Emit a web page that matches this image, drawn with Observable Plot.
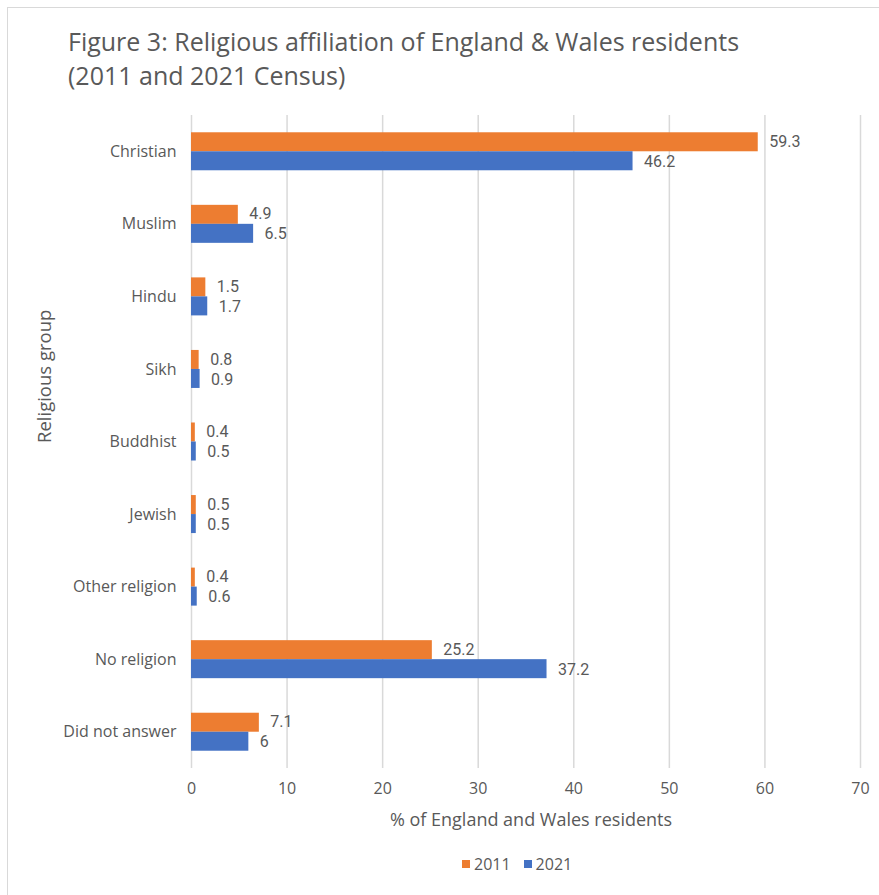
<!DOCTYPE html>
<html>
<head>
<meta charset="utf-8">
<script src="https://cdn.jsdelivr.net/npm/d3@7"></script>
<script src="https://cdn.jsdelivr.net/npm/@observablehq/plot@0.6"></script>
<style>
  html, body { margin: 0; padding: 0; background: #fff; }
  #chart { position: relative; width: 879px; height: 895px; overflow: hidden; font-family: "Open Sans", sans-serif; color: #595959; }
  #frame { position: absolute; left: 7px; top: 7px; width: 900px; height: 920px; border: 1.5px solid #d9d9d9; box-sizing: border-box; }
  #title { position: absolute; left: 68px; top: 24px; font-size: 25px; line-height: 34px; color: #595959; white-space: nowrap; }
  #legend { position: absolute; top: 851px; left: 462px; font-size: 16px; white-space: nowrap; }
  #legend span.item { display: inline-flex; align-items: center; margin-right: 13px; }
  #legend span.sw { display: inline-block; width: 8px; height: 8px; margin-right: 4px; }
  #plot { position: absolute; left: 0; top: 0; }
</style>
</head>
<body>
<div id="chart">
  <div id="frame"></div>
  <div id="title">Figure 3: Religious affiliation of England &amp; Wales residents<br>(2011 and 2021 Census)</div>
  <div id="plot"></div>
  <div id="legend"></div>
</div>
<script>
// Religious groups, top to bottom
const groups = ["Christian", "Muslim", "Hindu", "Sikh", "Buddhist", "Jewish", "Other religion", "No religion", "Did not answer"];
// Share of residents (%) by census year
const values2011 = [59.3, 4.9, 1.5, 0.8, 0.4, 0.5, 0.4, 25.2, 7.1];
const values2021 = [46.2, 6.5, 1.7, 0.9, 0.5, 0.5, 0.6, 37.2, 6];
const years = ["2011", "2021"];
const colors = ["#ED7D31", "#4472C4"];
const xTicks = [0, 10, 20, 30, 40, 50, 60, 70];

const rows = [
  ...groups.map((g, i) => ({group: g, year: "2011", value: values2011[i]})),
  ...groups.map((g, i) => ({group: g, year: "2021", value: values2021[i]}))
];

const W = 879, H = 895;
const mTop = 115, mBottom = 127, mLeft = 191, mRight = 19;
const band = (H - mTop - mBottom) / groups.length;
const barH = 19;
const half = band / 2;
const textColor = "#595959";
// value labels use a face with compact line metrics so stacked labels stay apart
const labelFont = "Roboto, 'Open Sans', sans-serif";

const plot = Plot.plot({
  width: W,
  height: H,
  marginTop: mTop,
  marginBottom: mBottom,
  marginLeft: mLeft,
  marginRight: mRight,
  style: {fontFamily: "'Open Sans', sans-serif", fontSize: "16px", color: textColor, background: "transparent", overflow: "visible"},
  x: {domain: [0, 70]},
  y: {domain: groups, padding: 0, round: false},
  marks: [
    Plot.ruleX(xTicks, {stroke: "#d9d9d9", strokeWidth: 1.5}),
    // 2011 bars sit in the upper half of each band, 2021 in the lower half
    Plot.barX(rows.filter(d => d.year === "2011"), {
      x: "value", y: "group", fill: colors[0],
      insetTop: half - barH, insetBottom: half
    }),
    Plot.barX(rows.filter(d => d.year === "2021"), {
      x: "value", y: "group", fill: colors[1],
      insetTop: half, insetBottom: half - barH
    }),
    Plot.text(rows.filter(d => d.year === "2011"), {
      x: "value", y: "group", text: d => String(d.value),
      dy: -10, dx: 11, textAnchor: "start", fill: textColor, fontSize: 16, fontFamily: labelFont
    }),
    Plot.text(rows.filter(d => d.year === "2021"), {
      x: "value", y: "group", text: d => String(d.value),
      dy: 10, dx: 11, textAnchor: "start", fill: textColor, fontSize: 16, fontFamily: labelFont
    }),
    Plot.axisX(xTicks, {tickSize: 0, tickPadding: 14, label: null, fill: textColor, fontSize: 16}),
    Plot.axisY({tickSize: 0, tickPadding: 15, label: null, fill: textColor, fontSize: 16}),
    Plot.text(["% of England and Wales residents"], {
      frameAnchor: "bottom", dy: 57, dx: 5, fill: textColor, fontSize: 18
    }),
    Plot.text(["Religious group"], {
      frameAnchor: "left", dx: -146, dy: 1, rotate: -90, fill: textColor, fontSize: 18.5
    })
  ]
});
document.getElementById("plot").appendChild(plot);

const legend = document.getElementById("legend");
years.forEach((y, i) => {
  const item = document.createElement("span");
  item.className = "item";
  const sw = document.createElement("span");
  sw.className = "sw";
  sw.style.background = colors[i];
  item.appendChild(sw);
  item.appendChild(document.createTextNode(y));
  legend.appendChild(item);
});
</script>
</body>
</html>
